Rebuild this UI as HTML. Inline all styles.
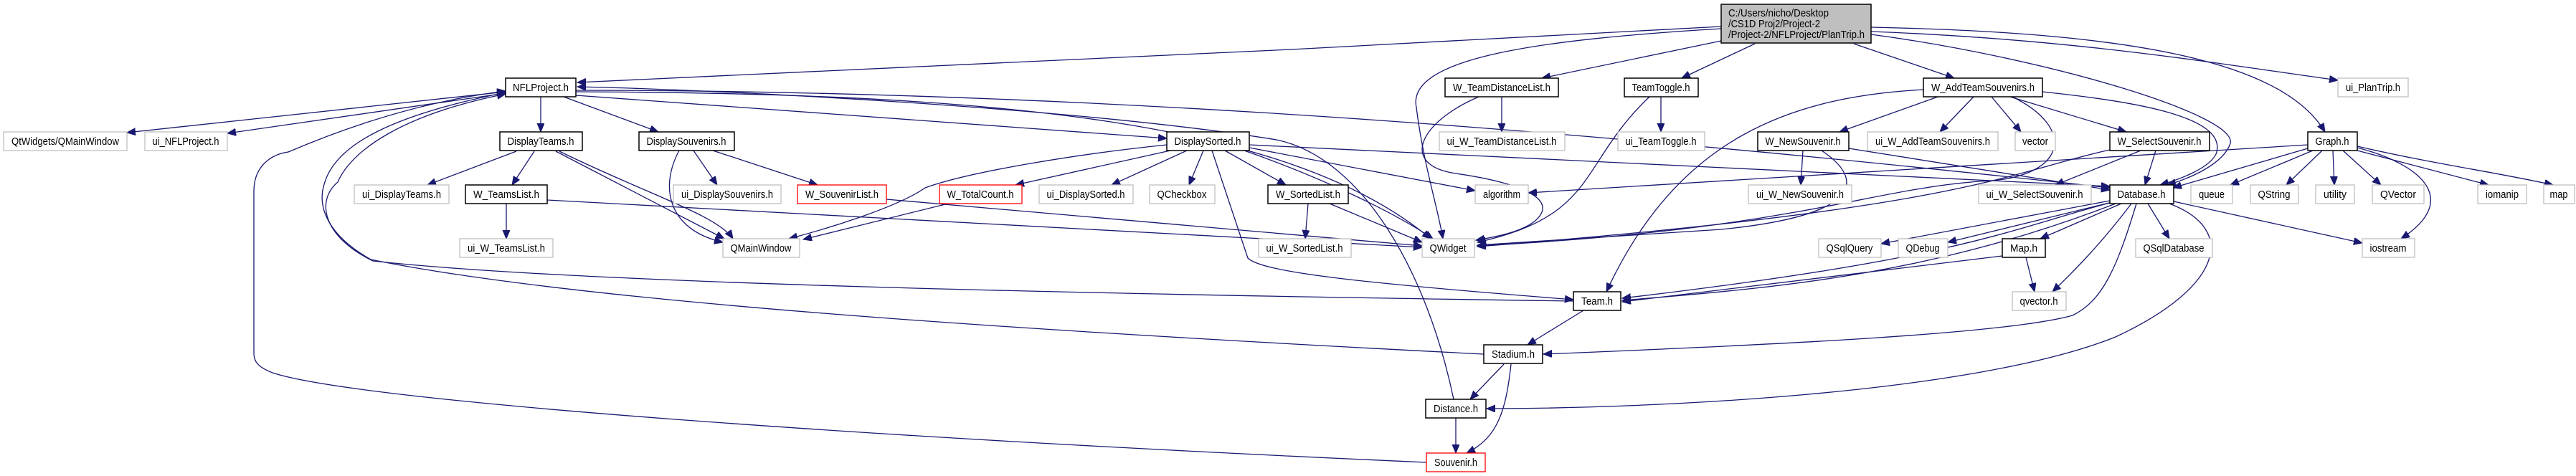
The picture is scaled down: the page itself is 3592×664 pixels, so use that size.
<!DOCTYPE html>
<html><head><meta charset="utf-8"><style>
html,body{margin:0;padding:0;background:#fff;}
svg{display:block;}
text{font-family:"Liberation Sans",sans-serif;font-size:15px;fill:#000;}
.e{fill:none;stroke:#191970;stroke-width:1.3;marker-end:url(#a);}
.k{fill:#fff;stroke:#000;stroke-width:1.5;}
.g{fill:#fff;stroke:#bfbfbf;stroke-width:1.3;}
.r{fill:#fff;stroke:#ff0000;stroke-width:1.3;}
</style></head><body>
<svg width="3592" height="664" viewBox="0 0 3592 664" xmlns="http://www.w3.org/2000/svg">
<defs><marker id="a" markerUnits="userSpaceOnUse" markerWidth="14" markerHeight="12" refX="12" refY="5" orient="auto"><path d="M0,0 L12,5 L0,10 z" fill="#191970" stroke="#191970"/></marker></defs>
<g>
<path class="e" d="M2400,37 L1800,69 L805,115"/>
<path class="e" d="M2400,40 C2150,55 1960,80 1975,150 C1985,230 2005,290 2012,333"/>
<path class="e" d="M2400,57 L2150,109"/>
<path class="e" d="M2447,61 L2345,109"/>
<path class="e" d="M2585,61 L2725,109"/>
<path class="e" d="M2609,44 C2900,55 3100,90 3260,112"/>
<path class="e" d="M2609,38 C2950,45 3180,80 3242,184"/>
<path class="e" d="M2609,48 C2850,80 3120,160 3110,200 C3100,230 3050,250 3022,258"/>
<path class="e" d="M2848,128 C2960,140 3110,160 3090,215 C3080,235 3040,250 3012,258"/>
<path class="e" d="M705,128 L177,185"/>
<path class="e" d="M705,130 L317,186"/>
<path class="e" d="M754,135 L754,184"/>
<path class="e" d="M786,135 L918,184"/>
<path class="e" d="M803,133 L1627,193"/>
<path class="e" d="M803,126 C1500,126 2200,180 2942,262"/>
<path class="e" d="M803,128 C1400,130 1800,170 1995,333"/>
<path class="e" d="M720,211 L596,258"/>
<path class="e" d="M745,211 L714,258"/>
<path class="e" d="M775,211 L1010,333"/>
<path class="e" d="M780,211 C900,270 1000,300 1022,333"/>
<path class="e" d="M706,284 L706,333"/>
<path class="e" d="M763,279 L1983,345"/>
<path class="e" d="M967,210 L1000,258"/>
<path class="e" d="M994,210 L1140,258"/>
<path class="e" d="M947,210 C920,260 930,320 1008,338"/>
<path class="e" d="M1236,278 L1983,343"/>
<path class="e" d="M1632,210 L1416,258"/>
<path class="e" d="M1655,210 L1550,258"/>
<path class="e" d="M1678,210 L1658,258"/>
<path class="e" d="M1708,210 L1793,258"/>
<path class="e" d="M1627,202 C1500,215 1350,240 1290,262 C1250,290 1150,320 1100,333"/>
<path class="e" d="M1318,285 L1120,334"/>
<path class="e" d="M1742,206 L2057,266"/>
<path class="e" d="M1735,210 C1850,250 1950,300 1998,333"/>
<path class="e" d="M1742,202 L2942,260"/>
<path class="e" d="M1690,210 L1740,360 C1760,380 1900,395 2194,418"/>
<path class="e" d="M1824,284 L1820,333"/>
<path class="e" d="M1854,284 L1983,338"/>
<path class="e" d="M2094,135 L2094,184"/>
<path class="e" d="M2062,135 C1980,170 1950,230 2030,242 C2100,252 2160,270 2150,296 C2140,320 2090,330 2058,335"/>
<path class="e" d="M2316,135 L2316,184"/>
<path class="e" d="M2300,135 C2200,230 2230,300 2060,338"/>
<path class="e" d="M2705,134 L2565,184"/>
<path class="e" d="M2752,135 L2705,184"/>
<path class="e" d="M2777,135 L2818,184"/>
<path class="e" d="M2803,135 L2965,184"/>
<path class="e" d="M2682,125 C2500,135 2340,190 2240,407"/>
<path class="e" d="M2804,134 C2900,180 2880,250 2760,253 C2600,265 2500,320 2060,343"/>
<path class="e" d="M2514,210 L2511,258"/>
<path class="e" d="M2540,210 C2600,250 2600,300 2400,320 L2060,342"/>
<path class="e" d="M2578,207 L2942,265"/>
<path class="e" d="M2985,210 L2866,258"/>
<path class="e" d="M3006,210 L2991,258"/>
<path class="e" d="M2942,209 C2800,240 2750,290 2060,344"/>
<path class="e" d="M3218,207 L3030,262"/>
<path class="e" d="M3218,202 L2131,269"/>
<path class="e" d="M3225,210 L3110,258"/>
<path class="e" d="M3238,210 L3188,258"/>
<path class="e" d="M3253,210 L3255,258"/>
<path class="e" d="M3267,210 L3320,258"/>
<path class="e" d="M3287,210 L3470,258"/>
<path class="e" d="M3287,204 C3400,230 3480,240 3560,258"/>
<path class="e" d="M3287,206 C3380,230 3430,280 3348,333"/>
<path class="e" d="M2942,280 L2623,340"/>
<path class="e" d="M2945,282 L2716,338"/>
<path class="e" d="M2958,284 L2845,333"/>
<path class="e" d="M2995,284 L3025,333"/>
<path class="e" d="M2972,284 C2930,340 2890,380 2862,407"/>
<path class="e" d="M3031,281 L3294,339"/>
<path class="e" d="M2942,283 C2800,320 2740,360 2262,416"/>
<path class="e" d="M2950,284 C2700,380 2500,400 2262,419"/>
<path class="e" d="M2979,284 C2950,380 2930,420 2890,440 C2800,465 2500,480 2152,494"/>
<path class="e" d="M3025,284 C3120,320 3100,400 2950,470 C2750,550 2300,570 2073,570"/>
<path class="e" d="M2825,359 L2837,407"/>
<path class="e" d="M2792,357 L2262,421"/>
<path class="e" d="M2208,433 L2130,481"/>
<path class="e" d="M2097,508 L2050,557"/>
<path class="e" d="M2107,508 C2100,570 2090,610 2045,632"/>
<path class="e" d="M2030,583 L2030,632"/>
<path class="e" d="M2194,420 C1500,410 800,395 520,364 C450,330 440,280 471,254 C490,210 560,160 705,131"/>
<path class="e" d="M2069,494 C1400,460 800,420 517,362 C460,330 440,290 453,254 C470,200 550,160 705,129"/>
<path class="e" d="M1989,645 C1200,610 500,560 380,520 C354,510 354,500 354,490 L354,267 C354,230 380,215 402,212 C500,170 600,140 705,127"/>
<path class="e" d="M2027,557 C1990,380 1900,220 1780,195 C1500,150 1000,125 805,121"/>
</g>
<g>
<rect x="2400" y="6" width="209" height="54" fill="#bfbfbf" stroke="#000" stroke-width="1.5"/>
<text x="2410" y="23" textLength="140" lengthAdjust="spacingAndGlyphs">C:/Users/nicho/Desktop</text>
<text x="2410" y="38" textLength="128" lengthAdjust="spacingAndGlyphs">/CS1D Proj2/Project-2</text>
<text x="2410" y="53" textLength="190" lengthAdjust="spacingAndGlyphs">/Project-2/NFLProject/PlanTrip.h</text>
</g>
<g text-anchor="middle">
<rect class="k" x="705" y="109" width="98" height="26"/><text x="754" y="127" textLength="78" lengthAdjust="spacingAndGlyphs">NFLProject.h</text>
<rect class="g" x="5" y="184" width="172" height="26"/><text x="91" y="202" textLength="150" lengthAdjust="spacingAndGlyphs">QtWidgets/QMainWindow</text>
<rect class="g" x="202" y="184" width="115" height="26"/><text x="259" y="202" textLength="93" lengthAdjust="spacingAndGlyphs">ui_NFLProject.h</text>
<rect class="k" x="697" y="184" width="115" height="26"/><text x="754" y="202" textLength="93" lengthAdjust="spacingAndGlyphs">DisplayTeams.h</text>
<rect class="k" x="891" y="184" width="133" height="26"/><text x="957" y="202" textLength="111" lengthAdjust="spacingAndGlyphs">DisplaySouvenirs.h</text>
<rect class="k" x="1627" y="184" width="115" height="26"/><text x="1684" y="202" textLength="93" lengthAdjust="spacingAndGlyphs">DisplaySorted.h</text>
<rect class="g" x="494" y="258" width="132" height="26"/><text x="560" y="276" textLength="110" lengthAdjust="spacingAndGlyphs">ui_DisplayTeams.h</text>
<rect class="k" x="649" y="258" width="114" height="26"/><text x="706" y="276" textLength="92" lengthAdjust="spacingAndGlyphs">W_TeamsList.h</text>
<rect class="g" x="939" y="258" width="150" height="26"/><text x="1014" y="276" textLength="128" lengthAdjust="spacingAndGlyphs">ui_DisplaySouvenirs.h</text>
<rect class="r" x="1112" y="258" width="124" height="26"/><text x="1174" y="276" textLength="102" lengthAdjust="spacingAndGlyphs">W_SouvenirList.h</text>
<rect class="r" x="1310" y="258" width="115" height="26"/><text x="1367" y="276" textLength="93" lengthAdjust="spacingAndGlyphs">W_TotalCount.h</text>
<rect class="g" x="1449" y="258" width="131" height="26"/><text x="1514" y="276" textLength="109" lengthAdjust="spacingAndGlyphs">ui_DisplaySorted.h</text>
<rect class="g" x="1603" y="258" width="91" height="26"/><text x="1648" y="276" textLength="69" lengthAdjust="spacingAndGlyphs">QCheckbox</text>
<rect class="k" x="1768" y="258" width="112" height="26"/><text x="1824" y="276" textLength="90" lengthAdjust="spacingAndGlyphs">W_SortedList.h</text>
<rect class="g" x="641" y="333" width="130" height="26"/><text x="706" y="351" textLength="108" lengthAdjust="spacingAndGlyphs">ui_W_TeamsList.h</text>
<rect class="g" x="1008" y="333" width="107" height="26"/><text x="1061" y="351" textLength="85" lengthAdjust="spacingAndGlyphs">QMainWindow</text>
<rect class="g" x="1755" y="333" width="129" height="26"/><text x="1819" y="351" textLength="107" lengthAdjust="spacingAndGlyphs">ui_W_SortedList.h</text>
<rect class="k" x="2015" y="109" width="158" height="26"/><text x="2094" y="127" textLength="136" lengthAdjust="spacingAndGlyphs">W_TeamDistanceList.h</text>
<rect class="k" x="2265" y="109" width="103" height="26"/><text x="2316" y="127" textLength="81" lengthAdjust="spacingAndGlyphs">TeamToggle.h</text>
<rect class="k" x="2682" y="109" width="166" height="26"/><text x="2765" y="127" textLength="144" lengthAdjust="spacingAndGlyphs">W_AddTeamSouvenirs.h</text>
<rect class="g" x="3260" y="109" width="98" height="26"/><text x="3309" y="127" textLength="76" lengthAdjust="spacingAndGlyphs">ui_PlanTrip.h</text>
<rect class="g" x="2007" y="184" width="175" height="26"/><text x="2094" y="202" textLength="153" lengthAdjust="spacingAndGlyphs">ui_W_TeamDistanceList.h</text>
<rect class="g" x="2256" y="184" width="121" height="26"/><text x="2316" y="202" textLength="99" lengthAdjust="spacingAndGlyphs">ui_TeamToggle.h</text>
<rect class="k" x="2451" y="184" width="127" height="26"/><text x="2514" y="202" textLength="105" lengthAdjust="spacingAndGlyphs">W_NewSouvenir.h</text>
<rect class="g" x="2604" y="184" width="182" height="26"/><text x="2695" y="202" textLength="160" lengthAdjust="spacingAndGlyphs">ui_W_AddTeamSouvenirs.h</text>
<rect class="g" x="2810" y="184" width="56" height="26"/><text x="2838" y="202" textLength="36" lengthAdjust="spacingAndGlyphs">vector</text>
<rect class="k" x="2942" y="184" width="139" height="26"/><text x="3011" y="202" textLength="117" lengthAdjust="spacingAndGlyphs">W_SelectSouvenir.h</text>
<rect class="k" x="3218" y="184" width="69" height="26"/><text x="3252" y="202" textLength="47" lengthAdjust="spacingAndGlyphs">Graph.h</text>
<rect class="g" x="2057" y="258" width="74" height="26"/><text x="2094" y="276" textLength="52" lengthAdjust="spacingAndGlyphs">algorithm</text>
<rect class="g" x="2438" y="258" width="144" height="26"/><text x="2510" y="276" textLength="122" lengthAdjust="spacingAndGlyphs">ui_W_NewSouvenir.h</text>
<rect class="g" x="2759" y="258" width="157" height="26"/><text x="2837" y="276" textLength="135" lengthAdjust="spacingAndGlyphs">ui_W_SelectSouvenir.h</text>
<rect class="k" x="2942" y="258" width="89" height="26"/><text x="2986" y="276" textLength="67" lengthAdjust="spacingAndGlyphs">Database.h</text>
<rect class="g" x="3055" y="258" width="58" height="26"/><text x="3084" y="276" textLength="36" lengthAdjust="spacingAndGlyphs">queue</text>
<rect class="g" x="3138" y="258" width="67" height="26"/><text x="3171" y="276" textLength="45" lengthAdjust="spacingAndGlyphs">QString</text>
<rect class="g" x="3229" y="258" width="54" height="26"/><text x="3256" y="276" textLength="32" lengthAdjust="spacingAndGlyphs">utility</text>
<rect class="g" x="3308" y="258" width="72" height="26"/><text x="3344" y="276" textLength="50" lengthAdjust="spacingAndGlyphs">QVector</text>
<rect class="g" x="3455" y="258" width="68" height="26"/><text x="3489" y="276" textLength="46" lengthAdjust="spacingAndGlyphs">iomanip</text>
<rect class="g" x="3547" y="258" width="43" height="26"/><text x="3568" y="276" textLength="25" lengthAdjust="spacingAndGlyphs">map</text>
<rect class="g" x="1983" y="333" width="73" height="26"/><text x="2019" y="351" textLength="51" lengthAdjust="spacingAndGlyphs">QWidget</text>
<rect class="g" x="2536" y="333" width="87" height="26"/><text x="2579" y="351" textLength="65" lengthAdjust="spacingAndGlyphs">QSqlQuery</text>
<rect class="g" x="2647" y="333" width="69" height="26"/><text x="2681" y="351" textLength="47" lengthAdjust="spacingAndGlyphs">QDebug</text>
<rect class="k" x="2792" y="333" width="60" height="26"/><text x="2822" y="351" textLength="38" lengthAdjust="spacingAndGlyphs">Map.h</text>
<rect class="g" x="2978" y="333" width="107" height="26"/><text x="3031" y="351" textLength="85" lengthAdjust="spacingAndGlyphs">QSqlDatabase</text>
<rect class="g" x="3294" y="333" width="73" height="26"/><text x="3330" y="351" textLength="51" lengthAdjust="spacingAndGlyphs">iostream</text>
<rect class="k" x="2194" y="407" width="66" height="26"/><text x="2227" y="425" textLength="44" lengthAdjust="spacingAndGlyphs">Team.h</text>
<rect class="g" x="2806" y="407" width="75" height="26"/><text x="2843" y="425" textLength="53" lengthAdjust="spacingAndGlyphs">qvector.h</text>
<rect class="k" x="2069" y="481" width="82" height="26"/><text x="2110" y="499" textLength="60" lengthAdjust="spacingAndGlyphs">Stadium.h</text>
<rect class="k" x="1988" y="557" width="84" height="26"/><text x="2030" y="575" textLength="62" lengthAdjust="spacingAndGlyphs">Distance.h</text>
<rect class="r" x="1989" y="632" width="82" height="26"/><text x="2030" y="650" textLength="60" lengthAdjust="spacingAndGlyphs">Souvenir.h</text>
</g>
</svg>
</body></html>
